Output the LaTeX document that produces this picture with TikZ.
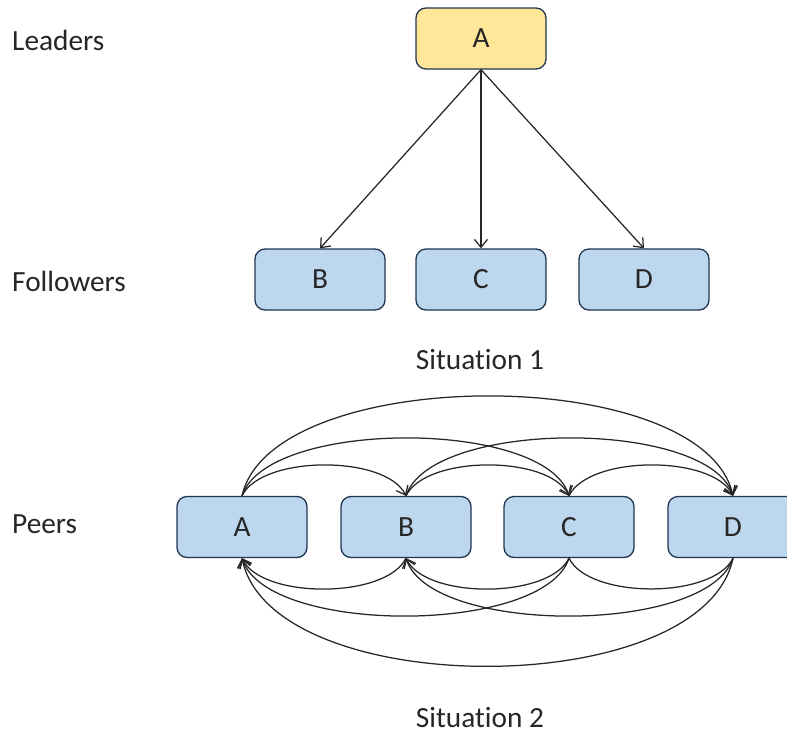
\documentclass[tikz,border=0pt]{standalone}
\usepackage{fontspec}
\setmainfont{Carlito}[Ligatures={NoCommon}]
\usetikzlibrary{arrows.meta}
\definecolor{boxline}{HTML}{1F3550}
\definecolor{bluefill}{HTML}{BDD7EE}
\definecolor{yellowfill}{HTML}{FFE699}
\definecolor{txt}{HTML}{262626}
\tikzset{
  box/.style={draw=boxline, line width=1.3pt, rounded corners=10pt,
    minimum width=130pt, minimum height=61pt, inner sep=0pt,
    font=\fontsize{29.3}{35}\selectfont, text=txt},
  bluebox/.style={box, fill=bluefill},
  yellowbox/.style={box, fill=yellowfill},
  lbl/.style={font=\fontsize{29.3}{35}\selectfont, text=txt, inner sep=0pt},
  link/.style={draw=black!85, line width=1.25pt},
  tipped/.style={link, -{Straight Barb[length=8pt,width=13pt,line width=1.25pt]}},
}
\begin{document}
\begin{tikzpicture}[x=1pt,y=-1pt]
\clip (0,0) rectangle (787,734);
\useasboundingbox (0,0) rectangle (787,734);

% Situation 1
\node[yellowbox] (s1A) at (481,38.5) {A};
\node[bluebox] (s1B) at (320,279.5) {B};
\node[bluebox] (s1C) at (481,279.5) {C};
\node[bluebox] (s1D) at (644,279.5) {D};
\draw[tipped] (s1A.south) -- (s1B.north);
\draw[tipped] (s1A.south) -- (s1C.north);
\draw[tipped] (s1A.south) -- (s1D.north);

\node[lbl, anchor=west] (leaders) at (12,40) {Leaders};
\node[lbl, anchor=west] (followers) at (12,281) {Followers};
\node[lbl] (sit1) at (480,360) {Situation 1};

% Situation 2
\node[bluebox] (pA) at (242,527) {A};
\node[bluebox] (pB) at (406,527) {B};
\node[bluebox] (pC) at (569,527) {C};
\node[bluebox] (pD) at (733,527) {D};
\node[lbl, anchor=west] (peers) at (12,524) {Peers};
\node[lbl] (sit2) at (480,718) {Situation 2};

% upper arcs
\draw[tipped] (pA.north) .. controls +(20,-41) and +(-20,-41) .. (pB.north);
\draw[tipped] (pB.north) .. controls +(20,-41) and +(-20,-41) .. (pC.north);
\draw[tipped] (pC.north) .. controls +(20,-41) and +(-20,-41) .. (pD.north);
\draw[tipped] (pA.north) .. controls +(25,-77) and +(-25,-77) .. (pC.north);
\draw[tipped] (pB.north) .. controls +(25,-77) and +(-25,-77) .. (pD.north);
\draw[tipped] (pA.north) .. controls +(30,-133) and +(-30,-133) .. (pD.north);

% lower arcs
\draw[tipped] (pB.south) .. controls +(-20,41) and +(20,41) .. (pA.south);
\draw[tipped] (pC.south) .. controls +(-20,41) and +(20,41) .. (pB.south);
\draw[link] (pD.south) .. controls +(-20,41) and +(20,41) .. (pC.south);
\draw[tipped] (pC.south) .. controls +(-25,77) and +(25,77) .. (pA.south);
\draw[tipped] (pD.south) .. controls +(-25,77) and +(25,77) .. (pB.south);
\draw[tipped] (pD.south) .. controls +(-30,144) and +(30,144) .. (pA.south);
\end{tikzpicture}
\end{document}
